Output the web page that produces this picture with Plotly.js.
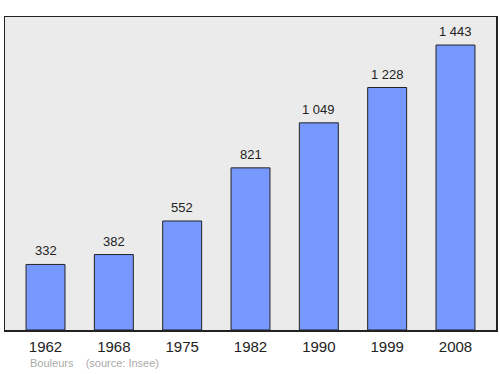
<!DOCTYPE html>
<html><head><meta charset="utf-8">
<script src="https://cdn.plot.ly/plotly-3.0.1.min.js"></script>
<style>body{margin:0;padding:0;background:#fff}#chart{width:500px;height:374px}</style>
</head><body><div id="chart"></div>
<script>
const years = ['1962','1968','1975','1982','1990','1999','2008'];
const population = [332, 382, 552, 821, 1049, 1228, 1443];
const sourceText = 'Bouleurs    (source: Insee)';

function fmt(v){return String(v).replace(/\B(?=(\d{3})+(?!\d))/g,'\u00a0');}

const annotations = years.map((y,i)=>({
  x: i, y: population[i], xref:'x', yref:'y', text: fmt(population[i]),
  showarrow:false, yanchor:'bottom', yshift:4,
  font:{family:'Liberation Sans, Arial, sans-serif', size:13, color:'#222'}
}));
annotations.push({
  xref:'paper', yref:'paper', x:0.046, y:-0.104, xanchor:'left', yanchor:'middle',
  text: sourceText.replace(/ /g,'\u00a0'), showarrow:false,
  font:{family:'Liberation Sans, Arial, sans-serif', size:11, color:'#aaaaaa'}
});

Plotly.newPlot('chart', [{
  type:'bar', x: years, y: population, width:0.57,
  marker:{color:'#7799ff', line:{color:'#222', width:1}},
  hoverinfo:'none'
}], {
  width:500, height:374,
  margin:{l:5, r:4, t:17, b:44},
  paper_bgcolor:'#ffffff', plot_bgcolor:'#ebebeb',
  showlegend:false,
  xaxis:{type:'category', range:[-0.593, 6.593], showline:true, mirror:true, linecolor:'#222', linewidth:1.5,
    ticks:'outside', ticklen:2, tickcolor:'rgba(0,0,0,0)', showgrid:false, zeroline:false,
    tickfont:{family:'Liberation Sans, Arial, sans-serif', size:15, color:'#222'}},
  yaxis:{range:[0,1585], showline:true, mirror:true, linecolor:'#222', linewidth:1.5,
    showticklabels:false, ticks:'', showgrid:false, zeroline:false},
  annotations: annotations
}, {staticPlot:true});
</script></body></html>
